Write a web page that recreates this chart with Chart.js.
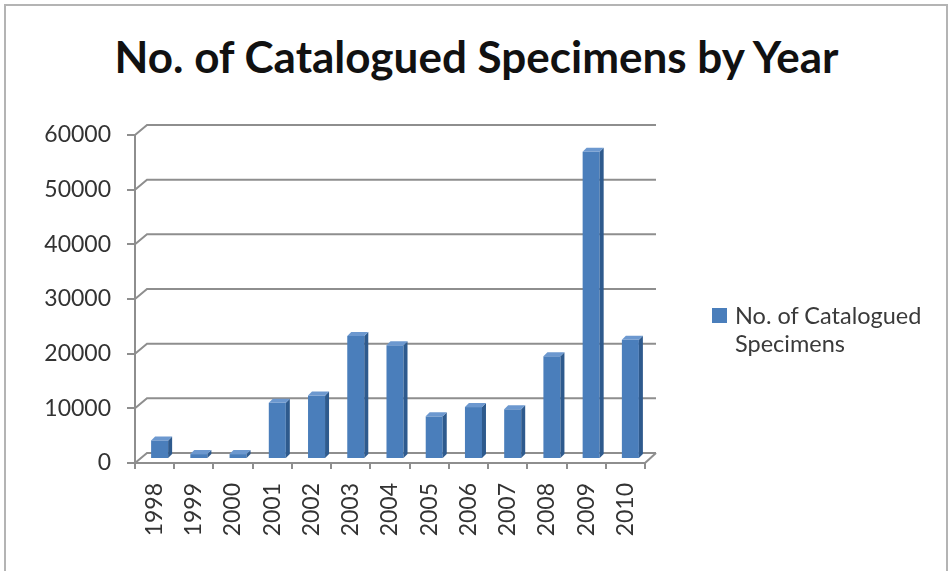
<!DOCTYPE html>
<html>
<head>
<meta charset="utf-8">
<script src="https://cdn.jsdelivr.net/npm/chart.js@4.4.1/dist/chart.umd.min.js"></script>
<style>
  html, body { margin: 0; padding: 0; background: #fff; }
  #wrap { position: relative; width: 951px; height: 571px; overflow: hidden; }
  #frame { position: absolute; left: 4px; top: 4px; width: 944px; height: 580px;
           border: 2px solid #b4b4b4; box-sizing: border-box; }
  #title { position: absolute; left: 0; width: 953px; top: 30px; text-align: center;
           font-family: Lato, sans-serif; font-weight: bold; font-size: 44px; color: #111;
           line-height: 52px; white-space: nowrap; }
  #legend { position: absolute; left: 712px; top: 301px; font-family: Lato, sans-serif;
            font-size: 23.5px; line-height: 28px; color: #3a3a3a; }
  #legend .sw { position: absolute; left: 0; top: 7px; width: 15px; height: 15px; background: #4A7EBB; }
  #legend .tx { margin-left: 23px; }
  canvas { position: absolute; left: 0; top: 0; }
</style>
</head>
<body>
<div id="wrap">
  <div id="frame"></div>
  <div id="title">No. of Catalogued Specimens by Year</div>
  <canvas id="c" width="951" height="571"></canvas>
  <div id="legend"><span class="sw"></span><div class="tx">No. of Catalogued<br>Specimens</div></div>
</div>
<script>
// Catalogued specimens per year
const years = ['1998', '1999', '2000', '2001', '2002', '2003', '2004',
               '2005', '2006', '2007', '2008', '2009', '2010'];
const specimens = [3400, 900, 900, 10300, 11600, 22500, 20800,
                   7800, 9500, 9100, 18800, 56200, 21800];
const yTicks = [0, 10000, 20000, 30000, 40000, 50000, 60000];
const seriesName = 'No. of Catalogued Specimens';

// depth of the back wall and of the bars
const WALL_DX = 12, WALL_DY = -10;
const BAR_DX = 5, BAR_DY = -4;
const SIDE_DX = 4, SIDE_DY = -4;
const GRID = '#8e8e8e';

const wallPlugin = {
  id: 'wall',
  beforeDatasetsDraw(chart) {
    const { ctx, chartArea: a, scales: { y } } = chart;
    ctx.save();
    ctx.strokeStyle = GRID;
    ctx.lineWidth = 2;
    yTicks.forEach(v => {
      const py = y.getPixelForValue(v);
      ctx.beginPath();
      ctx.moveTo(a.left, py);
      ctx.lineTo(a.left + WALL_DX, py + WALL_DY);
      ctx.lineTo(a.right + WALL_DX - 1, py + WALL_DY);
      ctx.stroke();
    });
    const p0 = y.getPixelForValue(0);
    ctx.beginPath();
    ctx.moveTo(a.right, p0);
    ctx.lineTo(a.right + WALL_DX - 1, p0 + WALL_DY);
    ctx.stroke();
    ctx.restore();
    // shift the bars into the middle of the depth
    ctx.save();
    ctx.translate(BAR_DX, BAR_DY);
  },
  afterDatasetsDraw(chart) {
    const { ctx } = chart;
    chart.getDatasetMeta(0).data.forEach(bar => {
      const { x, y, base, width } = bar.getProps(['x', 'y', 'base', 'width'], true);
      const l = x - width / 2, r = x + width / 2;
      // side face
      ctx.fillStyle = '#2E5A8D';
      ctx.beginPath();
      ctx.moveTo(r, y);
      ctx.lineTo(r + SIDE_DX, y + SIDE_DY);
      ctx.lineTo(r + SIDE_DX, base + SIDE_DY);
      ctx.lineTo(r, base);
      ctx.closePath();
      ctx.fill();
      // top face
      ctx.fillStyle = '#6C98CF';
      ctx.beginPath();
      ctx.moveTo(l, y);
      ctx.lineTo(l + SIDE_DX, y + SIDE_DY);
      ctx.lineTo(r + SIDE_DX, y + SIDE_DY);
      ctx.lineTo(r, y);
      ctx.closePath();
      ctx.fill();
    });
    ctx.restore();
  }
};

new Chart(document.getElementById('c'), {
  type: 'bar',
  data: {
    labels: years,
    datasets: [{
      label: seriesName,
      data: specimens,
      backgroundColor: '#4A7EBB',
      borderWidth: 0,
      barPercentage: 0.62,
      categoryPercentage: 0.7
    }]
  },
  plugins: [wallPlugin],
  options: {
    responsive: false,
    animation: false,
    events: [],
    layout: { padding: { left: 0, right: 306, top: 135, bottom: 0 } },
    plugins: {
      legend: { display: false },
      title: { display: false },
      tooltip: { enabled: false }
    },
    scales: {
      x: {
        afterFit(s) { s.height = 108; },
        grid: { offset: true, drawOnChartArea: false, drawTicks: true, tickLength: 6,
                color: GRID, lineWidth: 2 },
        border: { display: true, color: GRID, width: 2 },
        ticks: { minRotation: 90, maxRotation: 90, padding: 14, color: '#333',
                 font: { family: 'Lato', size: 23 } }
      },
      y: {
        min: 0, max: 60000,
        afterFit(s) { s.width = 135; },
        afterBuildTicks(s) { s.ticks = yTicks.map(v => ({ value: v })); },
        grid: { drawOnChartArea: false, drawTicks: true, tickLength: 8,
                color: GRID, lineWidth: 2 },
        border: { display: true, color: GRID, width: 2 },
        ticks: { padding: 16, color: '#333', font: { family: 'Lato', size: 23 },
                 callback: v => String(v) }
      }
    }
  }
});
</script>
</body>
</html>
